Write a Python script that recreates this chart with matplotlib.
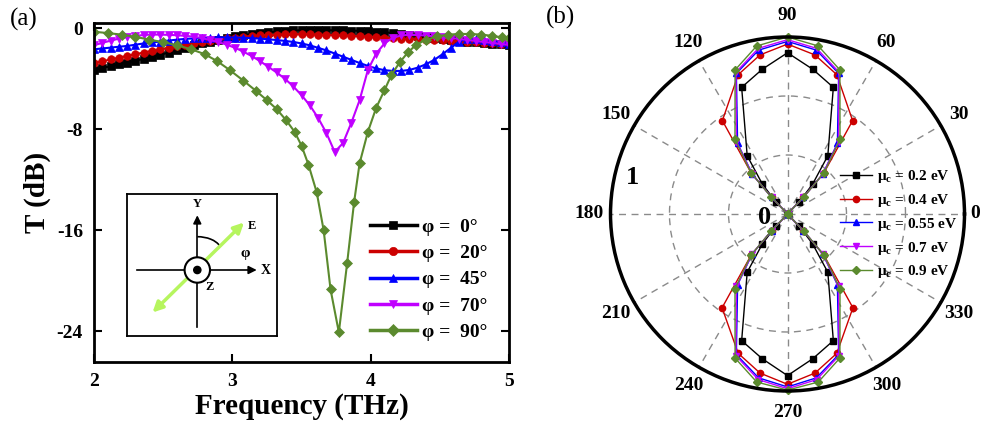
import numpy as np
import matplotlib
matplotlib.use("Agg")
import matplotlib.pyplot as plt
from matplotlib.patches import Circle, Arc

plt.rcParams['font.family'] = ['Liberation Serif', 'DejaVu Serif']
plt.rcParams['mathtext.fontset'] = 'custom'
plt.rcParams['mathtext.rm'] = 'Liberation Serif'
plt.rcParams['mathtext.bf'] = 'Liberation Serif:bold'
plt.rcParams['mathtext.it'] = 'Liberation Serif:italic'

# ---------------- panel (a): transmission spectra ----------------
freq = np.linspace(2.0, 5.0, 51)

t_phi0 = [-3.3, -3.15, -3.0, -2.86, -2.72, -2.57, -2.42, -2.26, -2.1, -1.92,
          -1.74, -1.55, -1.36, -1.2, -1.05, -0.9, -0.76, -0.64, -0.54, -0.45,
          -0.38, -0.31, -0.25, -0.2, -0.17, -0.15, -0.14, -0.14, -0.15, -0.16,
          -0.17, -0.18, -0.2, -0.22, -0.26, -0.31, -0.38, -0.45, -0.53, -0.61,
          -0.69, -0.77, -0.85, -0.92, -0.99, -1.05, -1.11, -1.16, -1.21, -1.26, -1.3]
t_phi20 = [-2.77, -2.62, -2.47, -2.33, -2.19, -2.05, -1.92, -1.79, -1.66, -1.54,
           -1.42, -1.3, -1.19, -1.08, -0.98, -0.89, -0.8, -0.73, -0.66, -0.61,
           -0.57, -0.53, -0.5, -0.48, -0.47, -0.47, -0.48, -0.5, -0.52, -0.54,
           -0.57, -0.6, -0.63, -0.66, -0.7, -0.74, -0.78, -0.81, -0.84, -0.87,
           -0.9, -0.93, -0.96, -0.99, -1.02, -1.06, -1.1, -1.14, -1.18, -1.21, -1.24]
t_phi45 = [-1.66, -1.6, -1.53, -1.46, -1.4, -1.3, -1.2, -1.12, -1.05, -0.97,
           -0.9, -0.84, -0.8, -0.77, -0.74, -0.72, -0.72, -0.73, -0.75, -0.78,
           -0.82, -0.87, -0.93, -1.0, -1.08, -1.2, -1.35, -1.55, -1.75, -2.0,
           -2.25, -2.5, -2.75, -2.98, -3.18, -3.32, -3.38, -3.38, -3.3, -3.12,
           -2.85, -2.5, -2.05, -1.55, -1.05, -0.82, -0.85, -0.93, -1.02, -1.12, -1.22]
t_phi70 = [-1.35, -1.15, -0.98, -0.82, -0.7, -0.6, -0.53, -0.5, -0.5, -0.52,
           -0.55, -0.6, -0.66, -0.78, -0.93, -1.1, -1.3, -1.55, -1.85, -2.2,
           -2.6, -3.05, -3.5, -4.0, -4.6, -5.3, -6.1, -7.1, -8.3, -9.8,
           -9.1, -7.5, -5.7, -3.3, -2.0, -1.2, -0.75, -0.57, -0.52, -0.53,
           -0.58, -0.64, -0.7, -0.77, -0.84, -0.92, -1.0, -1.08, -1.16, -1.24, -1.32]

freq_phi90 = [2.00, 2.10, 2.20, 2.30, 2.40, 2.50, 2.60, 2.70, 2.80, 2.89,
              2.98, 3.08, 3.17, 3.25, 3.32, 3.39, 3.45, 3.50, 3.55, 3.61,
              3.66, 3.71, 3.77, 3.83, 3.88, 3.92, 3.98, 4.04, 4.10, 4.15,
              4.21, 4.27, 4.33, 4.40, 4.48, 4.56, 4.64, 4.72, 4.80, 4.88, 4.95, 5.00]
t_phi90 = [-0.27, -0.38, -0.5, -0.68, -0.9, -1.1, -1.35, -1.65, -2.05, -2.6,
           -3.3, -4.15, -4.95, -5.7, -6.4, -7.3, -8.2, -9.3, -10.8, -13.0,
           -16.0, -20.7, -24.1, -18.6, -13.8, -10.7, -8.2, -6.3, -4.9, -3.7,
           -2.7, -1.9, -1.3, -0.9, -0.65, -0.5, -0.45, -0.45, -0.5, -0.6, -0.72, -0.8]

phi_labels = ['φ =  0°', 'φ =  20°', 'φ =  45°', 'φ =  70°', 'φ =  90°']
colors = ['#000000', '#cc0000', '#0000ff', '#c000ff', '#5b8a2e']
markers = ['s', 'o', '^', 'v', 'D']

# ---------------- panel (b): polar transmission ----------------
mu_labels = ['0.2 eV', '0.4 eV', '0.55 eV', '0.7 eV', '0.9 eV']

pol_theta_02 = [0, 46, 50, 55.3, 70.1, 80.1, 90, 99.9, 109.9, 124.7, 130, 134, 0,
                226, 230, 235.3, 250.1, 260.1, 270, 279.9, 289.9, 304.7, 310, 314, 0]
pol_r_02 = [0, .096, .221, .40, .761, .83, .911, .83, .761, .40, .221, .096, 0,
            .096, .221, .40, .761, .83, .913, .83, .761, .40, .221, .096, 0]

pol_theta_04 = [0, 46.4, 48.5, 55.1, 70.5, 80.2, 90, 99.8, 109.5, 124.9, 131.5, 133.6, 0,
                226.4, 228.5, 235.1, 250.5, 260.2, 270, 279.8, 289.5, 304.9, 311.5, 313.6, 0]
pol_r_04 = [0, .13, .31, .643, .835, .912, .96, .912, .835, .643, .31, .13, 0,
            .13, .31, .646, .835, .912, .962, .912, .835, .646, .31, .13, 0]

pol_theta_055 = [0, 46.4, 48.5, 54.8, 70, 80, 90, 100, 110, 125.2, 131.5, 133.6, 0,
                 226.4, 228.5, 234.8, 250, 260, 270, 280, 290, 305.2, 311.5, 313.6, 0]
pol_r_055 = [0, .13, .30, .489, .845, .94, .975, .94, .845, .489, .30, .13, 0,
             .13, .30, .489, .845, .94, .977, .94, .845, .489, .30, .13, 0]

pol_theta_07 = [0, 46.4, 48.5, 54.8, 70, 80, 90, 100, 110, 125.2, 131.5, 133.6, 0,
                226.4, 228.5, 234.8, 250, 260, 270, 280, 290, 305.2, 311.5, 313.6, 0]
pol_r_07 = [0, .13, .30, .50, .852, .95, .985, .95, .852, .50, .30, .13, 0,
            .13, .30, .50, .852, .95, .987, .95, .852, .50, .30, .13, 0]

pol_theta_09 = [0, 46.4, 48.5, 54.9, 70, 79.6, 90, 100.4, 110, 125.1, 131.5, 133.6, 0,
                226.4, 228.5, 234.9, 250, 259.6, 270, 280.4, 290, 305.1, 311.5, 313.6, 0]
pol_r_09 = [0, .135, .311, .516, .866, .965, 1.0, .965, .866, .516, .311, .135, 0,
            .135, .311, .516, .866, .965, .995, .965, .866, .516, .311, .135, 0]

angle_labels = [str(a) for a in range(0, 360, 30)]

fig = plt.figure(figsize=(9.82, 4.32), dpi=100)

# ---- (a)
ax = fig.add_axes([94 / 982, 70 / 432, 415 / 982, 339 / 432])
series_a = [(freq, t_phi0), (freq, t_phi20), (freq, t_phi45), (freq, t_phi70),
            (freq_phi90, t_phi90)]
for (x, y), lab, c, m in zip(series_a, phi_labels, colors, markers):
    ms = 5.5 if m != 'D' else 5
    ax.plot(x, y, color=c, marker=m, markersize=ms, lw=1.5, label=lab,
            markeredgewidth=0.5)
ax.set_xlim(2, 5)
ax.set_ylim(-26.45, 0.42)
ax.set_xticks([2, 3, 4, 5])
ax.set_yticks([0, -8, -16, -24])
ax.set_yticklabels(['0', '-8', '-16', '-24'])
ax.tick_params(direction='in', length=6, width=1.5, top=True, right=True,
               labelsize=14, pad=8)
for lbl in ax.get_xticklabels() + ax.get_yticklabels():
    lbl.set_fontweight('bold')
for sp in ax.spines.values():
    sp.set_linewidth(2)
ax.set_xlabel('Frequency (THz)', fontsize=21, fontweight='bold', labelpad=2)
ax.set_ylabel('T (dB)', fontsize=21, fontweight='bold', labelpad=4)
leg = ax.legend(loc='upper left', bbox_to_anchor=(370 / 982, 1 - 218 / 432),
                bbox_transform=fig.transFigure, frameon=False, numpoints=1,
                prop={'weight': 'bold', 'size': 14}, handlelength=2.4,
                handletextpad=0.3, labelspacing=0.45, borderpad=0, borderaxespad=0)
for h in leg.get_lines():
    h.set_linewidth(2.5)
    h.set_markersize(6)
fig.text(10 / 982, 1 - 19 / 432, '(a)', fontsize=18, va='center', ha='left')

# ---- inset schematic
ins = fig.add_axes([127.3 / 982, (432 - 335.7) / 432, 149.4 / 982, 141.7 / 432])
ins.set_xlim(127.3, 276.7)
ins.set_ylim(335.7, 194)
ins.set_xticks([])
ins.set_yticks([])
for sp in ins.spines.values():
    sp.set_linewidth(1.3)
ins.plot([197.3, 197.3], [327.3, 222], color='k', lw=1.2)
ins.plot([136.7, 250], [270, 270], color='k', lw=1.2)
ins.annotate('', xy=(197.3, 212.5), xytext=(197.3, 224),
             arrowprops=dict(arrowstyle='-|>', color='k', lw=1.2, mutation_scale=12))
ins.annotate('', xy=(259.5, 270), xytext=(248, 270),
             arrowprops=dict(arrowstyle='-|>', color='k', lw=1.2, mutation_scale=12))
ins.annotate('', xy=(152.5, 312.5), xytext=(244, 222.5),
             arrowprops=dict(arrowstyle='<|-|>', color='#b6f55e', lw=2.5,
                             mutation_scale=15, shrinkA=0, shrinkB=0), zorder=2)
ins.add_patch(Circle((197.3, 270), 12.7, facecolor='white', edgecolor='k', lw=1.5, zorder=3))
ins.add_patch(Circle((197.3, 270), 3.6, facecolor='k', edgecolor='k', zorder=4))
ins.add_patch(Arc((197.3, 251.7), 48.8, 30, theta1=270, theta2=345, color='k', lw=1.2))
ins.text(197.3, 204, 'Y', fontsize=9, fontweight='bold', ha='center', va='center')
ins.text(266, 270.5, 'X', fontsize=10, fontweight='bold', ha='center', va='center')
ins.text(209.5, 287, 'Z', fontsize=9, fontweight='bold', ha='center', va='center')
ins.text(251.5, 226, 'E', fontsize=9, fontweight='bold', ha='center', va='center')
ins.text(245, 253, 'φ', fontsize=11, fontweight='bold', ha='center', va='center')

# ---- (b)
pax = fig.add_axes([610.5 / 982, 41 / 432, 354 / 982, 354 / 432], projection='polar')
series_b = [(pol_theta_02, pol_r_02), (pol_theta_04, pol_r_04), (pol_theta_055, pol_r_055),
            (pol_theta_07, pol_r_07), (pol_theta_09, pol_r_09)]
for (th, r), lab, c, m in zip(series_b, mu_labels, colors, markers):
    ms = 4.5 if m != 'D' else 4
    pax.plot(np.radians(th), r, color=c, marker=m, markersize=ms, lw=1,
             label='μ$_{\\mathbf{c}}$ = ' + lab, clip_on=False)
pax.set_ylim(0, 1)
pax.set_yticks([1 / 3, 2 / 3])
pax.set_yticklabels([])
pax.set_xticks(np.radians(np.arange(0, 360, 30)))
pax.set_xticklabels([])
pax.grid(True, color='#8a8a8a', linestyle=(0, (5, 4)), lw=1)
pax.spines['polar'].set_linewidth(2.5)
pax.tick_params(axis='x', direction='in', length=6, width=1.5)
for a, lab in zip(range(0, 360, 30), angle_labels):
    rr = 1.06 if a == 0 else 1.12
    pax.text(np.radians(a), rr, lab, fontsize=14, fontweight='bold',
             ha='center', va='center', clip_on=False)
pax.text(np.radians(166.6), 0.90, '1', fontsize=19, fontweight='bold',
         ha='center', va='center')
pax.text(np.radians(190), 0.13, '0', fontsize=19, fontweight='bold',
         ha='center', va='center')
pleg = pax.legend(loc='upper left', bbox_to_anchor=(840 / 982, 1 - 168 / 432),
                  bbox_transform=fig.transFigure, frameon=False, numpoints=1,
                  prop={'weight': 'bold', 'size': 11}, handlelength=2.1,
                  handletextpad=0.3, labelspacing=0.45, borderpad=0, borderaxespad=0)
fig.text(546 / 982, 1 - 17 / 432, '(b)', fontsize=18, va='center', ha='left')

fig.savefig('out.png', dpi=100)
